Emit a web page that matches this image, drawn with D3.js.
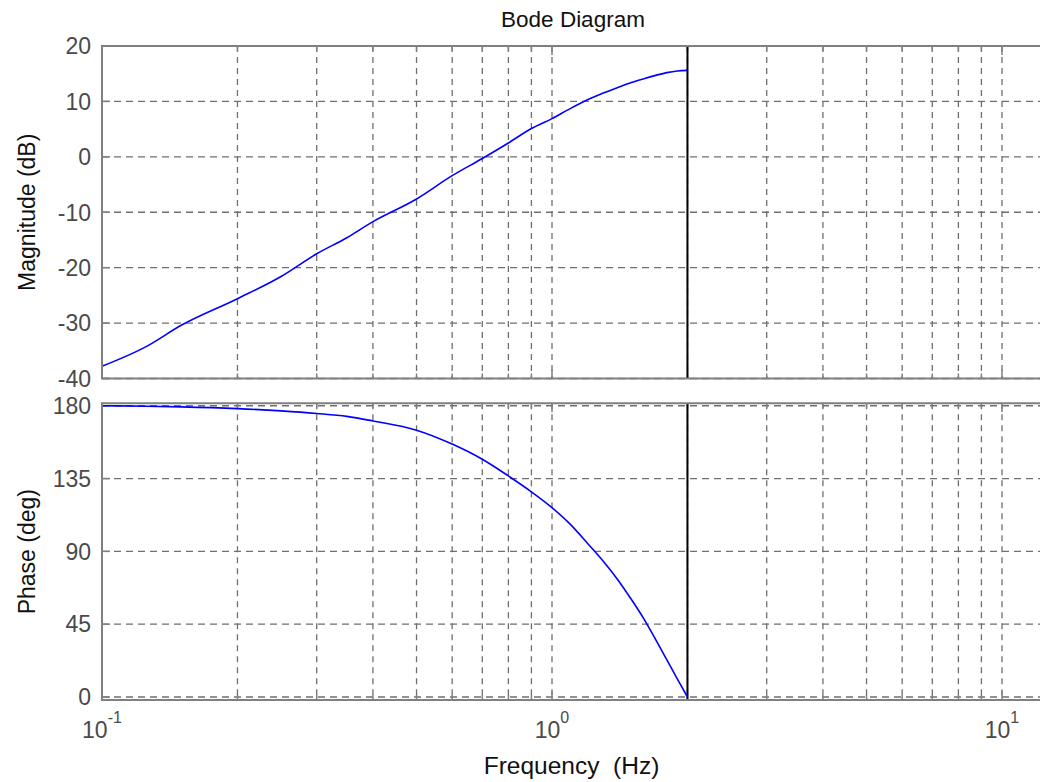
<!DOCTYPE html>
<html>
<head>
<meta charset="utf-8">
<script src="https://cdn.jsdelivr.net/npm/d3@7"></script>
<style>
  body { margin: 0; background: #fff; }
  svg { display: block; font-family: "Liberation Sans", Arial, sans-serif; }
</style>
</head>
<body>
<svg id="chart" width="1040" height="782"></svg>
<script>
// Frequency samples (Hz), shared by both panels.
const freqHz = [0.1, 0.125, 0.15, 0.2, 0.25, 0.3, 0.35, 0.4, 0.5, 0.6, 0.7, 0.8, 0.9,
                1.0, 1.1, 1.2, 1.3, 1.4, 1.5, 1.6, 1.7, 1.8, 1.9, 2.0];
const magnitudeDb = [-37.8, -34.3, -30.4, -25.6, -21.6, -17.5, -14.6, -11.7, -7.6, -3.4, -0.3, 2.5, 5.1,
                     6.9, 8.75, 10.3, 11.5, 12.5, 13.4, 14.1, 14.7, 15.2, 15.5, 15.6];
const phaseDeg = [180, 179.7, 179.3, 178.2, 176.8, 175.2, 173.4, 170.6, 164.9, 156.3, 146.9, 136.6, 126.8,
                  117, 106.5, 94.9, 83.9, 72.5, 60.4, 48.3, 35.5, 22.9, 11, 0];

const magnitudeTicks = [-40, -30, -20, -10, 0, 10, 20];
const phaseTicks = [0, 45, 90, 135, 180];
const decadeExponents = [-1, 0, 1];
const nyquistHz = 2;

const svg = d3.select('#chart');
const gridColor = '#6f6f6f';
const axisColor = '#808080';

const x = d3.scaleLog().domain([0.1, Math.pow(10, 1.1)]).range([102, 1047]);

// minor + major log positions inside the domain
const logGrid = [];
decadeExponents.forEach(e => {
    for (let m = 1; m <= 9; m++) {
        const f = m * Math.pow(10, e);
        if (f <= x.domain()[1]) logGrid.push(f);
    }
});

const panels = [
    { values: magnitudeDb, ticks: magnitudeTicks, domain: [-40, 20], range: [378.5, 46], label: 'Magnitude (dB)' },
    { values: phaseDeg, ticks: phaseTicks, domain: [-1.85, 181.5], range: [700, 403.3], label: 'Phase (deg)' }
];

panels.forEach((p, i) => {
    const y = d3.scaleLinear().domain(p.domain).range(p.range);
    const top = p.range[1], bottom = p.range[0];
    const g = svg.append('g');

    // vertical grid
    g.selectAll('line.vgrid').data(logGrid.filter(f => f > 0.1)).join('line')
        .attr('x1', d => x(d)).attr('x2', d => x(d))
        .attr('y1', top).attr('y2', bottom)
        .attr('stroke', gridColor).attr('stroke-width', 1.3).attr('stroke-dasharray', '6,5');

    // horizontal grid
    g.selectAll('line.hgrid').data(p.ticks.filter(t => y(t) > top + 1)).join('line')
        .attr('x1', x.range()[0]).attr('x2', x.range()[1])
        .attr('y1', d => y(d)).attr('y2', d => y(d))
        .attr('stroke', gridColor).attr('stroke-width', 1.3).attr('stroke-dasharray', '7,5');

    // x ticks, inward on top and bottom
    [top, bottom].forEach((yy, k) => {
        const dir = k === 0 ? 1 : -1;
        g.selectAll(null).data(logGrid.filter(f => f > 0.1)).join('line')
            .attr('x1', d => x(d)).attr('x2', d => x(d))
            .attr('y1', yy).attr('y2', d => yy + dir * (Number.isInteger(Math.log10(d)) ? 9 : 5))
            .attr('stroke', axisColor).attr('stroke-width', 1.5);
    });

    // y ticks, inward on the left
    g.selectAll(null).data(p.ticks).join('line')
        .attr('x1', x.range()[0]).attr('x2', x.range()[0] + 8)
        .attr('y1', d => y(d)).attr('y2', d => y(d))
        .attr('stroke', axisColor).attr('stroke-width', 1.5);

    // y tick labels
    g.selectAll('text.ytick').data(p.ticks).join('text')
        .attr('x', 91).attr('y', d => y(d)).attr('dy', '0.36em')
        .attr('text-anchor', 'end').attr('font-size', 23).attr('fill', '#4a4a4a')
        .text(d => d);

    // nyquist marker
    g.append('line')
        .attr('x1', x(nyquistHz)).attr('x2', x(nyquistHz))
        .attr('y1', top).attr('y2', bottom)
        .attr('stroke', '#000').attr('stroke-width', 2);

    // response curve
    const line = d3.line()
        .x((d, j) => x(freqHz[j]))
        .y(d => y(d))
        .curve(d3.curveMonotoneX);
    g.append('path').datum(p.values)
        .attr('d', line)
        .attr('fill', 'none').attr('stroke', '#0000ff').attr('stroke-width', 1.6);

    // box
    g.append('path')
        .attr('d', `M${x.range()[1]},${top}H${x.range()[0]}V${bottom}H${x.range()[1]}V${top}`)
        .attr('fill', 'none').attr('stroke', axisColor).attr('stroke-width', 2);

    // y label
    svg.append('text')
        .attr('transform', `translate(35,${(top + bottom) / 2}) rotate(-90)`)
        .attr('text-anchor', 'middle').attr('font-size', 23).attr('fill', '#111')
        .text(p.label);

    // decade labels under the phase panel only
    if (i === 1) {
        decadeExponents.forEach(e => {
            const t = svg.append('text')
                .attr('x', x(Math.pow(10, e))).attr('y', 738)
                .attr('text-anchor', 'middle').attr('fill', '#4a4a4a').attr('font-size', 23);
            t.append('tspan').text('10');
            t.append('tspan').attr('font-size', 16).attr('dy', -15).text(e);
        });
    }
});

svg.append('text')
    .attr('x', 573).attr('y', 26.5)
    .attr('text-anchor', 'middle').attr('font-size', 22.5).attr('fill', '#111')
    .text('Bode Diagram');

svg.append('text')
    .attr('x', 571.5).attr('y', 774)
    .attr('text-anchor', 'middle').attr('font-size', 24.5).attr('fill', '#111')
    .style('white-space', 'pre')
    .text('Frequency  (Hz)');
</script>
</body>
</html>
